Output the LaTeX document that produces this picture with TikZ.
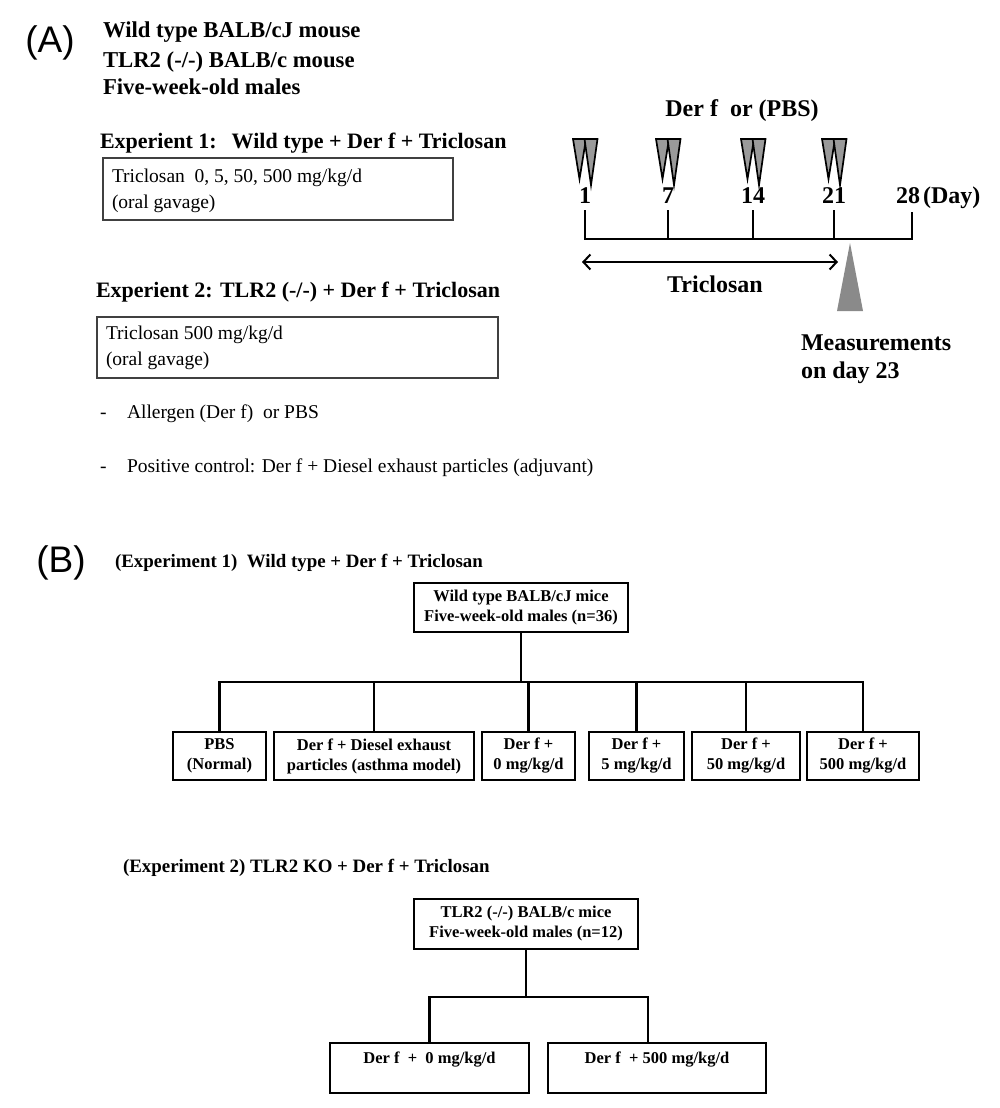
\documentclass[tikz,border=0pt]{standalone}
\usepackage{fontspec}
\setmainfont{Liberation Serif}
\newfontfamily\labfont{Liberation Sans}
\usetikzlibrary{arrows.meta,calc}
\definecolor{mgray}{HTML}{8A8A8A}
\definecolor{tgray}{HTML}{9A9A9A}
\begin{document}
\begin{tikzpicture}[x=1pt,y=-1pt,
  every node/.style={inner sep=0pt,outer sep=0pt},
  panel/.style={font=\labfont\fontsize{37}{40}\selectfont},
  hdr/.style={anchor=base west,font=\bfseries\fontsize{22}{26}\selectfont},
  hdrbig/.style={anchor=base west,font=\bfseries\fontsize{22.7}{26}\selectfont},
  tltext/.style={anchor=base,font=\bfseries\fontsize{24}{28}\selectfont},
  bodytxt/.style={anchor=base west,font=\fontsize{19.5}{23}\selectfont},
  infobox/.style={draw=black!75,line width=1.4pt,anchor=north west},
  ttl/.style={anchor=base west,font=\bfseries\fontsize{18.9}{22}\selectfont},
  grp/.style={draw,line width=2.4pt,align=center,font=\bfseries\fontsize{16.5}{20}\selectfont},
  treeline/.style={line width=2.4pt},
  axisline/.style={line width=2.8pt},
  tri/.style={fill=tgray,draw=black,line width=1.7pt}
]
\useasboundingbox (0,0) rectangle (1000,1108);
\fill[white] (0,0) rectangle (1000,1108);

% ---------------- Panel A ----------------
\node[panel] (labA) at (50,43) {(A)};
\node[hdrbig] (h1) at (103,38) {Wild type BALB/cJ mouse};
\node[hdrbig] (h2) at (103,67) {TLR2 (-/-) BALB/c mouse};
\node[hdrbig] (h3) at (103,95) {Five-week-old males};

\node[hdr] (e1) at (100,148) {Experient 1:\hspace{15pt}Wild type + Der f + Triclosan};
\node[infobox,minimum width=350,minimum height=62] (box1) at (103,158) {};
\node[bodytxt] (box1a) at (112,182) {Triclosan\ \ 0, 5, 50, 500 mg/kg/d};
\node[bodytxt] (box1b) at (112,208) {(oral gavage)};

\node[hdr] (e2) at (96,297) {Experient 2: TLR2 (-/-) + Der f + Triclosan};
\node[infobox,minimum width=401,minimum height=61] (box2) at (97,317) {};
\node[bodytxt] (box2a) at (106,339) {Triclosan 500 mg/kg/d};
\node[bodytxt] (box2b) at (106,365) {(oral gavage)};

\node[bodytxt] (d1) at (100,418) {-};
\node[bodytxt] (n1) at (127,418) {Allergen (Der f)\ \ or PBS};
\node[bodytxt] (d2) at (100,472) {-};
\node[bodytxt] (n2) at (127,472) {Positive control: Der f + Diesel exhaust particles (adjuvant)};

% timeline
\node[tltext] (derf) at (742,116) {Der f\ \ or (PBS)};
\foreach \x in {585,668,753,834}{
  \filldraw[tri] (\x-5.5-6.5,139) -- (\x-5.5+6.5,139) -- (\x-5.5,179) -- cycle;
  \filldraw[tri] (\x+6-6.5,139) -- (\x+6+6.5,139) -- (\x+6,185) -- cycle;
}
\node[tltext] (t1) at (585,203) {1};
\node[tltext] (t7) at (668,203) {7};
\node[tltext] (t14) at (753,203) {14};
\node[tltext] (t21) at (834,203) {21};
\node[tltext,anchor=base west] (t28) at (896,203) {28\hspace{3pt}(Day)};
\coordinate (a1) at (585,239);
\coordinate (a28) at (912,239);
\draw[axisline,line join=miter] (585,210) -- (a1) -- (a28) -- (912,212);
\foreach \x in {668,753,834} \draw[axisline] (\x,210) -- (\x,239);
\coordinate (ta) at (582,262);
\coordinate (tb) at (838,262);
\draw[line width=2pt,{Straight Barb[length=7pt,width=15pt,line width=2pt]}-{Straight Barb[length=7pt,width=15pt,line width=2pt]}] (ta) -- (tb);
\node[tltext] (tric) at (715,292) {Triclosan};
\fill[mgray] (850,243) -- (863,311) -- (837,311) -- cycle;
\node[tltext,anchor=base west] (m1) at (801,350) {Measurements};
\node[tltext,anchor=base west] (m2) at (801,378) {on day 23};

% ---------------- Panel B ----------------
\node[panel] (labB) at (61,563) {(B)};
\node[ttl] (bt1) at (115,567) {(Experiment 1)\ \ Wild type + Der f + Triclosan};
\node[grp,minimum width=214,minimum height=49] (top1) at (521,607.5) {Wild type BALB/cJ mice\\Five-week-old males (n=36)};
\node[grp,minimum width=93,minimum height=48] (b1) at (219.5,756) {PBS\\(Normal)};
\node[grp,minimum width=200,minimum height=48] (b2) at (374,756) {Der f + Diesel exhaust\\particles (asthma model)};
\node[grp,minimum width=93,minimum height=48] (b3) at (528.5,756) {Der f +\\0 mg/kg/d};
\node[grp,minimum width=95,minimum height=48] (b4) at (636.5,756) {Der f +\\5 mg/kg/d};
\node[grp,minimum width=108,minimum height=48] (b5) at (746,756) {Der f +\\50 mg/kg/d};
\node[grp,minimum width=112,minimum height=48] (b6) at (863,756) {Der f +\\500 mg/kg/d};
\coordinate (j1) at (521,682);
\draw[treeline] (top1.south) -- (j1);
\draw[treeline,line join=miter] (b1.north) -- (b1.north |- j1) -- (b6.north |- j1) -- (b6.north);
\foreach \b in {b2,b3,b4,b5} \draw[treeline] (\b.north) -- (\b.north |- j1);

\node[ttl] (bt2) at (123,872) {(Experiment 2) TLR2 KO + Der f + Triclosan};
\node[grp,minimum width=224,minimum height=50] (top2) at (526,924) {TLR2 (-/-) BALB/c mice\\Five-week-old males (n=12)};
\node[grp,minimum width=199,minimum height=50] (c1) at (429.5,1068) {Der f\ \ +\ \ 0 mg/kg/d\\\mbox{}};
\node[grp,minimum width=218,minimum height=50] (c2) at (657,1068) {Der f\ \ + 500 mg/kg/d\\\mbox{}};
\coordinate (j2) at (526,997);
\coordinate (c2top) at ($(c2.north west)+(100,0)$);
\draw[treeline] (top2.south) -- (j2);
\draw[treeline,line join=miter] (c1.north) -- (c1.north |- j2) -- (c2top |- j2) -- (c2top);
\end{tikzpicture}
\end{document}
